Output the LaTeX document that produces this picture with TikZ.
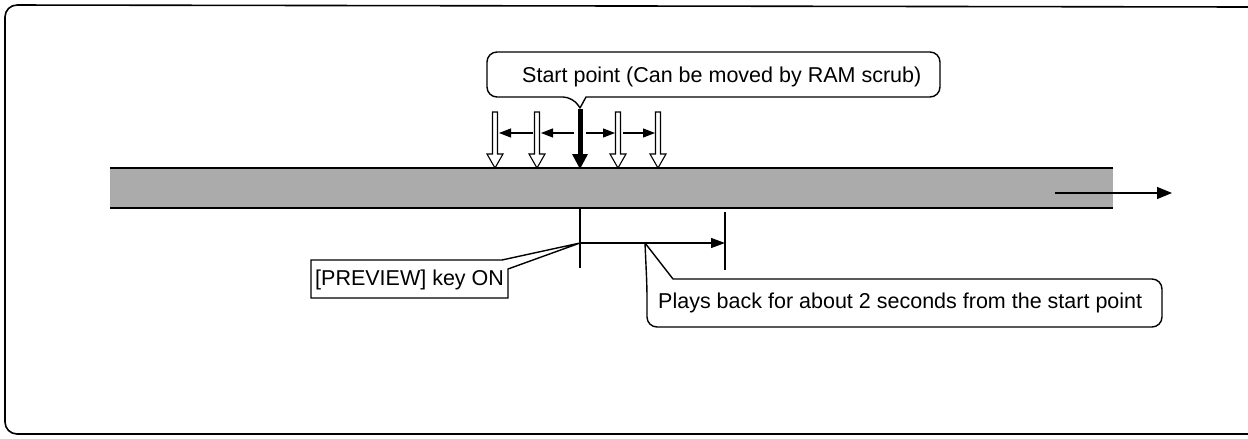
\documentclass[tikz,border=0pt]{standalone}
\usepackage{fontspec}
\setmainfont{Liberation Sans}
\usetikzlibrary{arrows.meta}
\begin{document}
\begin{tikzpicture}[x=1pt,y=-1pt,
  frame/.style={line width=1.6pt, rounded corners=12pt},
  lbl/.style={font=\fontsize{21.5}{25}\selectfont, inner sep=0pt, anchor=base west},
  callout/.style={line width=1.4pt, fill=white, line join=round},
  tick/.style={line width=1.2pt},
  arr/.style={line width=1.2pt,-{Triangle[length=12pt,width=9pt]}},
  hollow/.style={line width=1.1pt, fill=white, line join=miter},
  bandedge/.style={line width=2.2pt}]
\useasboundingbox (0,0) rectangle (1248,439);
% frame (open on the right)
\draw[frame] (1248,7) -- (5,5) -- (5,434) -- (1248,434);
% tape band
\fill[black!33] (110,168) rectangle (1113,208);
\draw[bandedge] (110,168) -- (1113,168);
\draw[bandedge] (110,208) -- (1113,208);
\coordinate (bs) at (1055,193);
\coordinate (be) at (1172,193);
\draw[arr,-{Triangle[length=15pt,width=12pt]}] (bs) -- (be);
% hollow arrows
\foreach \x in {495,537,618,658}{
  \draw[hollow] (\x-2.5,112) -- (\x+2.5,112) -- (\x+2.5,154) -- (\x+8,154)
     -- (\x,168) -- (\x-8,154) -- (\x-2.5,154) -- cycle;
}
% thick start arrow
\fill (577.5,109) rectangle (582.5,155);
\fill (572,154) -- (588,154) -- (580,169) -- cycle;
% small arrows
\coordinate (a1s) at (533,133); \coordinate (a1e) at (499,133);
\coordinate (a2s) at (574,133); \coordinate (a2e) at (541,133);
\coordinate (a3s) at (586,133); \coordinate (a3e) at (615,133);
\coordinate (a4s) at (623,133); \coordinate (a4e) at (655,133);
\draw[arr] (a1s) -- (a1e);
\draw[arr] (a2s) -- (a2e);
\draw[arr] (a3s) -- (a3e);
\draw[arr] (a4s) -- (a4e);
% start line and play arrow
\coordinate (sl1) at (580,208);
\coordinate (sl2) at (580,268);
\draw[tick] (sl1) -- (sl2);
\coordinate (pstart) at (580,243);
\coordinate (pend) at (725,243);
\draw[arr,-{Triangle[length=14pt,width=10pt]}] (pstart) -- (pend);
\coordinate (t1) at (725,212);
\coordinate (t2) at (725,270);
\draw[tick] (t1) -- (t2);
% start point callout
\draw[callout] (586,97) [rounded corners=10pt] -- (940,97) -- (940,52) -- (487,52) -- (487,97) -- (573,97) [sharp corners] -- (580,108) -- cycle;
\node[lbl] (st) at (522,82) {Start point (Can be moved by RAM scrub)};
% preview callout
\draw[callout,line join=miter] (311,260) -- (502,260) -- (pstart) -- (508,269) -- (508,298) -- (311,298) -- cycle;
\node[lbl] (pv) at (315,285) {[PREVIEW] key ON};
% plays back callout
\coordinate (ptip) at (645,243);
\draw[callout] (673,279) [rounded corners=10pt] -- (1162,279) -- (1162,327) -- (647,327) -- (647,288) [sharp corners] -- (ptip) -- cycle;
\node[lbl] (pb) at (658,308) {Plays back for about 2 seconds from the start point};
\end{tikzpicture}
\end{document}
